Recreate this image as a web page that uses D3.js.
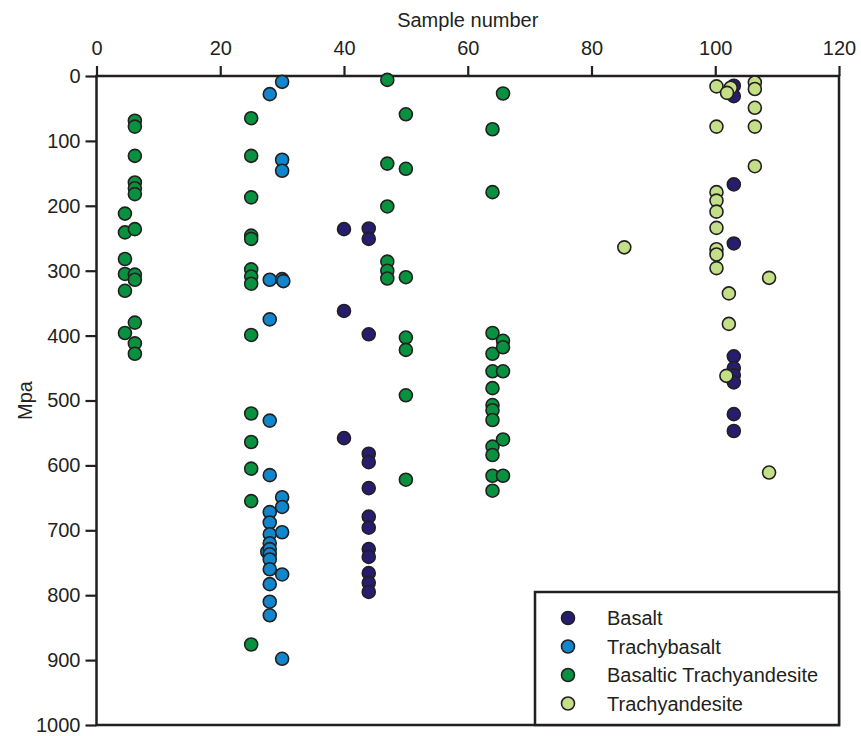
<!DOCTYPE html>
<html>
<head>
<meta charset="utf-8">
<script src="https://cdn.jsdelivr.net/npm/d3@7"></script>
<style>
  body { margin: 0; background: white; }
  text { font-family: "Liberation Sans", Arial, sans-serif; fill: #231f20; }
</style>
</head>
<body>
<div id="grafico"></div>
<script>
// Datos: [numero de muestra, Mpa]

var seriesNames = ["Basalt", "Trachybasalt", "Basaltic Trachyandesite", "Trachyandesite"];
var seriesColors = ["#261d6f", "#1286cc", "#08923f", "#c3df88"];

var basalt = [
    [40, 236], [40, 362], [40, 558],
    [44, 235], [44, 251], [44, 398], [44, 582], [44, 595], [44, 635], [44, 679],
    [44, 696], [44, 729], [44, 741], [44, 766], [44, 781], [44, 795],
    [103, 15], [103, 31], [103, 167], [103, 258], [103, 432], [103, 450],
    [103, 461], [103, 472], [103, 521], [103, 547]
];

var trachybasalt = [
    [28, 28], [28, 314], [28, 375], [28, 531], [28, 615], [28, 672], [28, 688],
    [28, 706], [28, 720], [27.6, 733], [28, 729], [28, 737], [28, 745], [28, 760],
    [28, 783], [28, 810], [28, 831],
    [30, 9], [30, 129], [30, 146], [30, 313], [30.2, 316], [30, 649], [30, 664],
    [30, 703], [30, 768], [30, 898]
];

var basalticTrachyandesite = [
    [4.6, 212], [4.6, 241], [4.6, 282], [4.6, 305], [4.6, 331], [4.6, 396],
    [6.2, 69], [6.2, 78], [6.2, 123], [6.2, 164], [6.2, 173], [6.2, 182],
    [6.2, 236], [6.2, 306], [6.2, 314], [6.2, 380], [6.2, 412], [6.2, 428],
    [25, 65], [25, 123], [25, 187], [25, 246], [25, 251], [25, 298], [25, 309],
    [25, 320], [25, 399], [25, 520], [25, 564], [25, 605], [25, 655], [25, 876],
    [47, 6], [47, 135], [47, 201], [47, 286], [47, 300], [47, 312],
    [50, 59], [50, 143], [50, 310], [50, 403], [50, 422], [50, 492], [50, 622],
    [64, 82], [64, 179], [64, 396], [64, 428], [64, 455], [64, 481], [64, 507],
    [64, 515], [64, 530], [64, 571], [64, 584], [64, 616], [64, 639],
    [65.7, 27], [65.7, 408], [65.7, 418], [65.7, 455], [65.7, 560], [65.7, 616]
];

var trachyandesite = [
    [85.3, 264],
    [100.2, 16], [100.2, 78], [100.2, 179], [100.2, 192], [100.2, 209],
    [100.2, 234], [100.2, 267], [100.2, 275], [100.2, 296],
    [102.5, 18], [101.9, 26], [102.2, 335], [102.2, 382], [101.8, 462],
    [106.4, 10], [106.4, 20], [106.4, 49], [106.4, 78], [106.4, 139],
    [108.7, 311], [108.7, 611]
];

var xTicks = [0, 20, 40, 60, 80, 100, 120];
var yTicks = [0, 100, 200, 300, 400, 500, 600, 700, 800, 900, 1000];

var margin = {top: 76, right: 22, bottom: 11, left: 96.5},
    w = 861,
    h = 736,
    width = w - margin.left - margin.right,
    height = h - margin.top - margin.bottom,
    r = 6.5,
    fontSize = "20px";

var svg = d3.select("#grafico")
            .append("svg")
            .attr("width", w)
            .attr("height", h)
            .style("background-color", "white");

var g = svg.append("g").attr("transform", "translate(" + margin.left + "," + margin.top + ")");

var x = d3.scaleLinear().domain([0, 120]).range([0, width]),
    y = d3.scaleLinear().domain([0, 1000]).range([0, height]);

/* Ejes */
var xAxis = d3.axisTop(x).tickValues(xTicks).tickFormat(d3.format("d"))
        .tickSize(10).tickSizeOuter(0).tickPadding(11),
    yAxis = d3.axisLeft(y).tickValues(yTicks).tickFormat(d3.format("d"))
        .tickSize(11).tickSizeOuter(0).tickPadding(5);

var gx = g.append("g").attr("class", "axisX").call(xAxis);
var gy = g.append("g").attr("class", "axisY").call(yAxis);

[gx, gy].forEach(function(a) {
    a.select(".domain").remove();
    a.selectAll("line").attr("stroke", "#231f20").attr("stroke-width", 2.2);
    a.selectAll("text").style("font-size", fontSize).attr("fill", "#231f20");
});

/* Marco */
g.append("rect")
    .attr("width", width)
    .attr("height", height)
    .attr("fill", "none")
    .attr("stroke", "#231f20")
    .attr("stroke-width", 2.5);

/* Titulos */
svg.append("text")
    .attr("x", margin.left + width / 2)
    .attr("y", 27)
    .style("text-anchor", "middle")
    .style("font-size", fontSize)
    .text("Sample number");

svg.append("text")
    .attr("transform", "translate(32," + (margin.top + y(500)) + ") rotate(-90)")
    .style("text-anchor", "middle")
    .style("font-size", fontSize)
    .text("Mpa");

/* Puntos */
var allSeries = [basalt, trachybasalt, basalticTrachyandesite, trachyandesite];

allSeries.forEach(function(data, i) {
    g.append("g").selectAll("circle")
        .data(data)
        .enter()
        .append("circle")
        .attr("cx", function(d) { return x(d[0]); })
        .attr("cy", function(d) { return y(d[1]); })
        .attr("r", r)
        .attr("fill", seriesColors[i])
        .attr("stroke", "#231f20")
        .attr("stroke-width", 1.6);
});

/* Leyenda */
var lg = g.append("g").attr("transform", "translate(" + (width - 304) + "," + (height - 133) + ")");

lg.append("rect")
    .attr("width", 304)
    .attr("height", 133)
    .attr("fill", "white")
    .attr("stroke", "#231f20")
    .attr("stroke-width", 2.5);

seriesNames.forEach(function(name, i) {
    lg.append("circle")
        .attr("cx", 33)
        .attr("cy", 26 + i * 28.5)
        .attr("r", r)
        .attr("fill", seriesColors[i])
        .attr("stroke", "#231f20")
        .attr("stroke-width", 1.6);
    lg.append("text")
        .attr("x", 72)
        .attr("y", 26 + i * 28.5)
        .attr("dy", "0.35em")
        .style("font-size", fontSize)
        .text(name);
});
</script>
</body>
</html>
